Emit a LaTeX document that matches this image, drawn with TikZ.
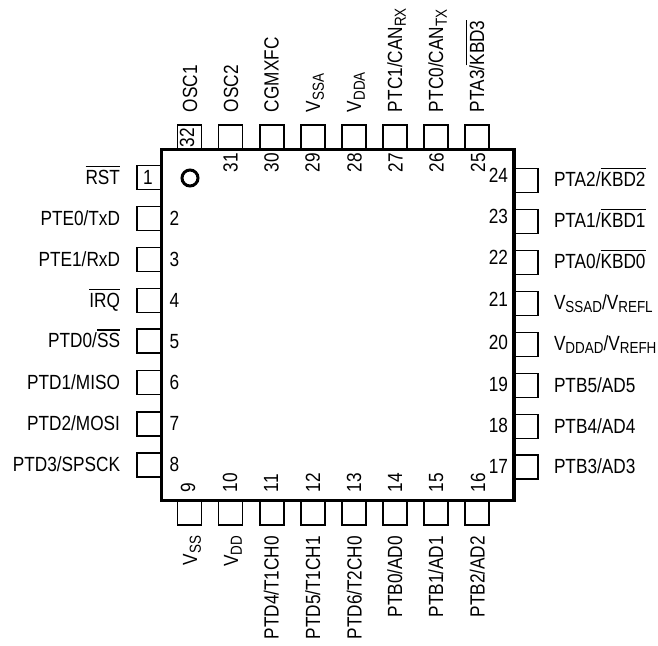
\documentclass[tikz,border=0pt]{standalone}
\usepackage{fontspec}
\setmainfont[FakeStretch=0.84]{Liberation Sans}
\newcommand{\ovl}[1]{\leavevmode\vbox{\hrule height 1.3pt\kern 2.6pt\hbox{#1}}}
\newcommand{\sbs}[1]{\raisebox{-3.8pt}{\fontsize{16}{16}\selectfont #1}}
\tikzset{
  pinbox/.style={draw=black,line width=1.45pt,fill=white,minimum width=24pt,minimum height=24pt,inner sep=0pt,outer sep=0pt},
  txt/.style={inner sep=0pt,outer sep=0pt,text=black,font=\fontsize{20.5}{22}\selectfont},
  ltxt/.style={txt,anchor=base east},
  rtxt/.style={txt,anchor=base west},
  uptxt/.style={txt,rotate=90,anchor=base west},
  dntxt/.style={txt,rotate=90,anchor=base east},
  numr/.style={txt,anchor=base east},
  numl/.style={txt,anchor=base west},
}
\begin{document}
\begin{tikzpicture}[x=1pt,y=-1pt]
\useasboundingbox (0,0) rectangle (658,645);
% left pins
\foreach \n/\lab/\cy/\by in {
  1/{\ovl{RST}}/177.5/184, 2/{PTE0/TxD}/218.5/225, 3/{PTE1/RxD}/259.5/266, 4/{\ovl{IRQ}}/300.5/307,
  5/{PTD0/\ovl{SS}}/341/347.5, 6/{PTD1/MISO}/382.5/389, 7/{PTD2/MOSI}/423.8/430, 8/{PTD3/SPSCK}/465/471}{
  \node[pinbox] (pin\n) at (149,\cy) {};
  \node[ltxt] (lab\n) at (120,\by) {\lab};
}
\foreach \n/\cy in {2/225,3/266,4/307,5/348,6/389.5,7/430.5,8/471.5}{
  \node[numl] (num\n) at (169.5,\cy) {\n};
}
\node[txt,anchor=base] (num1) at (148,184) {1};
% right pins
\foreach \n/\lab/\cy/\by in {
  24/{PTA2/\ovl{KBD2}}/180.5/186, 23/{PTA1/\ovl{KBD1}}/221.5/227, 22/{PTA0/\ovl{KBD0}}/262.5/268,
  21/{V\sbs{SSAD}/V\sbs{REFL}}/303.5/309, 20/{V\sbs{DDAD}/V\sbs{REFH}}/344.5/350,
  19/{PTB5/AD5}/385.5/392, 18/{PTB4/AD4}/426.5/433, 17/{PTB3/AD3}/467/473.5}{
  \node[pinbox] (pin\n) at (526,\cy) {};
  \node[rtxt] (lab\n) at (554,\by) {\lab};
}
\foreach \n/\cy in {24/182,23/223,22/264,21/306,20/349,19/391,18/432,17/473}{
  \node[numr] (num\n) at (508,\cy) {\n};
}
% top pins
\foreach \n/\lab/\cx/\bx in {
  32/{OSC1}/189.5/197, 31/{OSC2}/230.5/238, 30/{CGMXFC}/272/278.5, 29/{V\sbs{SSA}}/313/320,
  28/{V\sbs{DDA}}/354/361, 27/{PTC1/CAN\sbs{RX}}/395/402, 26/{PTC0/CAN\sbs{TX}}/436/443,
  25/{PTA3/\ovl{KBD3}}/477/484}{
  \node[pinbox] (pin\n) at (\cx,137) {};
  \node[uptxt] (lab\n) at (\bx,112) {\lab};
}
\foreach \n/\bx in {31/237.5,30/278.5,29/319.5,28/361.5,27/402.5,26/443.5,25/485}{
  \node[uptxt] (num\n) at (\bx,172.5) {\n};
}
\node[uptxt] (num32) at (194,147) {32};
% bottom pins
\foreach \n/\lab/\cx/\bx in {
  9/{V\sbs{SS}}/189.5/197, 10/{V\sbs{DD}}/230.5/238, 11/{PTD4/T1CH0}/272/278.5, 12/{PTD5/T1CH1}/313/320,
  13/{PTD6/T2CH0}/354/361.5, 14/{PTB0/AD0}/395/402, 15/{PTB1/AD1}/436/443, 16/{PTB2/AD2}/477/484.5}{
  \node[pinbox] (pin\n) at (\cx,513) {};
  \node[dntxt] (lab\n) at (\bx,536) {\lab};
}
\foreach \n/\bx in {9/195,10/237,11/278,12/320,13/361,14/402,15/443,16/485}{
  \node[uptxt] (num\n) at (\bx,492) {\n};
}
% body
\draw[line width=3.2pt,line join=miter] (161.5,149.5) rectangle (514,500.5);
\node[circle,draw=black,line width=3pt,minimum size=16pt,inner sep=0pt] (dot) at (190,178) {};
\end{tikzpicture}
\end{document}
